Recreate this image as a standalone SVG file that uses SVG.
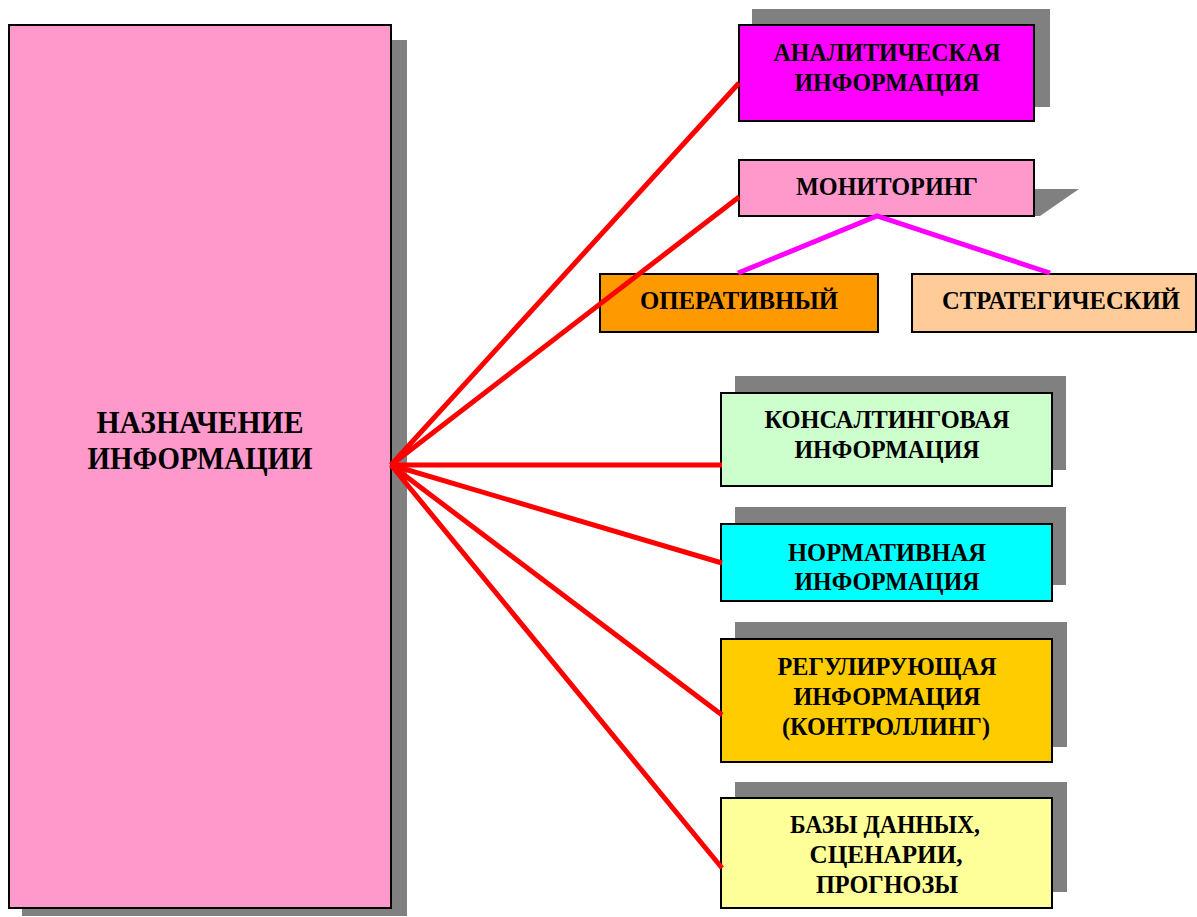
<svg xmlns="http://www.w3.org/2000/svg" width="1197" height="917" viewBox="0 0 1197 917">
  <style>
    .shadow { fill: #808080; }
    .box { stroke: #000; stroke-width: 2; }
    .t { font-family: "Liberation Serif", "Times New Roman", serif; font-weight: bold; font-size: 26px; fill: #000; text-anchor: middle; }
    .tm { font-size: 32px; }
    .red { stroke: #FF0000; stroke-width: 5; fill: none; stroke-linecap: butt; }
    .mag { stroke: #FF00FF; stroke-width: 5; fill: none; }
  </style>
  <rect width="1197" height="917" fill="#FFFFFF"/>

  <!-- central node -->
  <g id="node-purpose">
    <rect class="shadow" x="22" y="40" width="385" height="876"/>
    <rect class="box" x="9" y="25" width="382" height="883" fill="#FF99CC"/>
    <text class="t tm" x="200" y="433" textLength="207" lengthAdjust="spacingAndGlyphs">НАЗНАЧЕНИЕ</text>
    <text class="t tm" x="200" y="469" textLength="225" lengthAdjust="spacingAndGlyphs">ИНФОРМАЦИИ</text>
  </g>

  <g id="node-analytic">
    <rect class="shadow" x="752" y="9" width="298" height="98"/>
    <rect class="box" x="739" y="25" width="295" height="96" fill="#FF00FF"/>
    <text class="t" x="887" y="61" textLength="227" lengthAdjust="spacingAndGlyphs">АНАЛИТИЧЕСКАЯ</text>
    <text class="t" x="887" y="91" textLength="185" lengthAdjust="spacingAndGlyphs">ИНФОРМАЦИЯ</text>
  </g>

  <g id="node-monitoring">
    <polygon class="shadow" points="1034,189 1079,189 1040,216 1034,216"/>
    <rect class="box" x="739" y="160" width="295" height="56" fill="#FF99CC"/>
    <text class="t" x="887" y="195" textLength="182" lengthAdjust="spacingAndGlyphs">МОНИТОРИНГ</text>
  </g>

  <g id="node-operative">
    <rect class="box" x="600" y="274" width="278" height="58" fill="#FF9900"/>
    <text class="t" x="739" y="309" textLength="198" lengthAdjust="spacingAndGlyphs">ОПЕРАТИВНЫЙ</text>
  </g>

  <g id="node-strategic">
    <rect class="box" x="912" y="274" width="284" height="58" fill="#FFCC99"/>
    <text class="t" x="1061" y="309" textLength="238" lengthAdjust="spacingAndGlyphs">СТРАТЕГИЧЕСКИЙ</text>
  </g>

  <g id="node-consulting">
    <rect class="shadow" x="735" y="376" width="331" height="94"/>
    <rect class="box" x="721" y="393" width="331" height="93" fill="#CCFFCC"/>
    <text class="t" x="887" y="428" textLength="245" lengthAdjust="spacingAndGlyphs">КОНСАЛТИНГОВАЯ</text>
    <text class="t" x="887" y="458" textLength="185" lengthAdjust="spacingAndGlyphs">ИНФОРМАЦИЯ</text>
  </g>

  <g id="node-normative">
    <rect class="shadow" x="735" y="507" width="331" height="78"/>
    <rect class="box" x="721" y="524" width="331" height="77" fill="#00FFFF"/>
    <text class="t" x="887" y="561" textLength="198" lengthAdjust="spacingAndGlyphs">НОРМАТИВНАЯ</text>
    <text class="t" x="887" y="590" textLength="185" lengthAdjust="spacingAndGlyphs">ИНФОРМАЦИЯ</text>
  </g>

  <g id="node-regulating">
    <rect class="shadow" x="735" y="622" width="332" height="125"/>
    <rect class="box" x="721" y="639" width="331" height="123" fill="#FFCC00"/>
    <text class="t" x="887" y="675" textLength="219" lengthAdjust="spacingAndGlyphs">РЕГУЛИРУЮЩАЯ</text>
    <text class="t" x="887" y="705" textLength="187" lengthAdjust="spacingAndGlyphs">ИНФОРМАЦИЯ</text>
    <text class="t" x="886" y="735" textLength="208" lengthAdjust="spacingAndGlyphs">(КОНТРОЛЛИНГ)</text>
  </g>

  <g id="node-databases">
    <rect class="shadow" x="735" y="782" width="332" height="110"/>
    <rect class="box" x="721" y="798" width="331" height="110" fill="#FFFF99"/>
    <text class="t" x="885" y="833" textLength="190" lengthAdjust="spacingAndGlyphs">БАЗЫ ДАННЫХ,</text>
    <text class="t" x="886" y="863" textLength="153" lengthAdjust="spacingAndGlyphs">СЦЕНАРИИ,</text>
    <text class="t" x="887" y="893" textLength="142" lengthAdjust="spacingAndGlyphs">ПРОГНОЗЫ</text>
  </g>

  <!-- connectors, drawn over the boxes they cross -->
  <g id="connectors">
    <line class="red" x1="391" y1="465" x2="739" y2="83"/>
    <line class="red" x1="391" y1="465" x2="739" y2="197"/>
    <line class="red" x1="391" y1="465" x2="722" y2="465"/>
    <line class="red" x1="391" y1="465" x2="722" y2="563"/>
    <line class="red" x1="391" y1="465" x2="722" y2="715"/>
    <line class="red" x1="391" y1="465" x2="722" y2="868"/>
    <polyline class="mag" points="738,273 877,216 1050,273"/>
  </g>
</svg>
